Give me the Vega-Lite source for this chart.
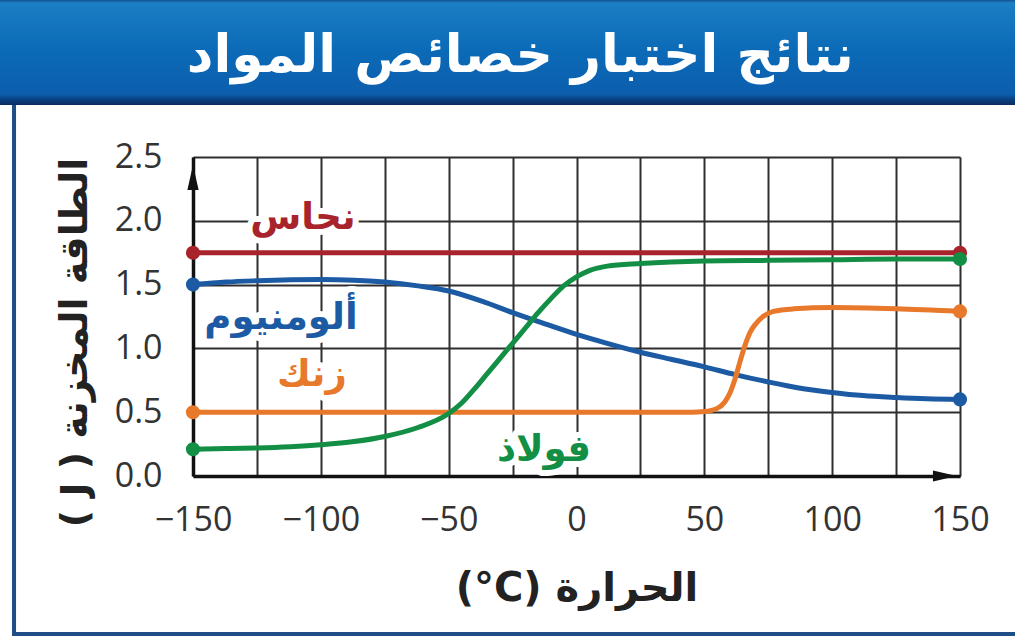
{
  "$schema": "https://vega.github.io/schema/vega-lite/v6.json",
  "autosize": "none",
  "width": 767,
  "height": 319,
  "padding": {"left": 193, "top": 157, "right": 55, "bottom": 163},
  "background": "white",
  "config": {
    "view": {"stroke": null},
    "axis": {"labelFont": "Open Sans", "titleFont": "DejaVu Sans"}
  },
  "datasets": {
    "curves": [
      {"material": "نحاس", "temp": -150, "energy": 1.75},
      {"material": "نحاس", "temp": 150, "energy": 1.75},
      {"material": "ألومنيوم", "temp": -150, "energy": 1.5},
      {"material": "ألومنيوم", "temp": -137, "energy": 1.52},
      {"material": "ألومنيوم", "temp": -125, "energy": 1.53},
      {"material": "ألومنيوم", "temp": -100, "energy": 1.54},
      {"material": "ألومنيوم", "temp": -87, "energy": 1.535},
      {"material": "ألومنيوم", "temp": -75, "energy": 1.52},
      {"material": "ألومنيوم", "temp": -62, "energy": 1.49},
      {"material": "ألومنيوم", "temp": -50, "energy": 1.45},
      {"material": "ألومنيوم", "temp": -37, "energy": 1.37},
      {"material": "ألومنيوم", "temp": -25, "energy": 1.28},
      {"material": "ألومنيوم", "temp": -12, "energy": 1.19},
      {"material": "ألومنيوم", "temp": 0, "energy": 1.11},
      {"material": "ألومنيوم", "temp": 12, "energy": 1.04},
      {"material": "ألومنيوم", "temp": 25, "energy": 0.97},
      {"material": "ألومنيوم", "temp": 37, "energy": 0.915},
      {"material": "ألومنيوم", "temp": 50, "energy": 0.855},
      {"material": "ألومنيوم", "temp": 62, "energy": 0.795},
      {"material": "ألومنيوم", "temp": 75, "energy": 0.737},
      {"material": "ألومنيوم", "temp": 87, "energy": 0.69},
      {"material": "ألومنيوم", "temp": 100, "energy": 0.655},
      {"material": "ألومنيوم", "temp": 112, "energy": 0.63},
      {"material": "ألومنيوم", "temp": 125, "energy": 0.615},
      {"material": "ألومنيوم", "temp": 137, "energy": 0.605},
      {"material": "ألومنيوم", "temp": 150, "energy": 0.6},
      {"material": "زنك", "temp": -150, "energy": 0.5},
      {"material": "زنك", "temp": 0, "energy": 0.5},
      {"material": "زنك", "temp": 45, "energy": 0.5},
      {"material": "زنك", "temp": 50, "energy": 0.505},
      {"material": "زنك", "temp": 55, "energy": 0.53},
      {"material": "زنك", "temp": 58, "energy": 0.58},
      {"material": "زنك", "temp": 60, "energy": 0.65},
      {"material": "زنك", "temp": 62, "energy": 0.76},
      {"material": "زنك", "temp": 64, "energy": 0.9},
      {"material": "زنك", "temp": 66, "energy": 1.03},
      {"material": "زنك", "temp": 68, "energy": 1.13},
      {"material": "زنك", "temp": 70, "energy": 1.19},
      {"material": "زنك", "temp": 73, "energy": 1.25},
      {"material": "زنك", "temp": 77, "energy": 1.29},
      {"material": "زنك", "temp": 85, "energy": 1.31},
      {"material": "زنك", "temp": 100, "energy": 1.32},
      {"material": "زنك", "temp": 125, "energy": 1.31},
      {"material": "زنك", "temp": 150, "energy": 1.29},
      {"material": "فولاذ", "temp": -150, "energy": 0.21},
      {"material": "فولاذ", "temp": -137, "energy": 0.215},
      {"material": "فولاذ", "temp": -125, "energy": 0.22},
      {"material": "فولاذ", "temp": -112, "energy": 0.23},
      {"material": "فولاذ", "temp": -100, "energy": 0.245},
      {"material": "فولاذ", "temp": -87, "energy": 0.27},
      {"material": "فولاذ", "temp": -75, "energy": 0.31},
      {"material": "فولاذ", "temp": -62, "energy": 0.38},
      {"material": "فولاذ", "temp": -50, "energy": 0.49},
      {"material": "فولاذ", "temp": -45, "energy": 0.57},
      {"material": "فولاذ", "temp": -40, "energy": 0.68},
      {"material": "فولاذ", "temp": -35, "energy": 0.8},
      {"material": "فولاذ", "temp": -30, "energy": 0.92},
      {"material": "فولاذ", "temp": -25, "energy": 1.04},
      {"material": "فولاذ", "temp": -20, "energy": 1.16},
      {"material": "فولاذ", "temp": -15, "energy": 1.28},
      {"material": "فولاذ", "temp": -10, "energy": 1.39},
      {"material": "فولاذ", "temp": -5, "energy": 1.49},
      {"material": "فولاذ", "temp": 0, "energy": 1.56},
      {"material": "فولاذ", "temp": 5, "energy": 1.61},
      {"material": "فولاذ", "temp": 12, "energy": 1.645},
      {"material": "فولاذ", "temp": 25, "energy": 1.665},
      {"material": "فولاذ", "temp": 50, "energy": 1.685},
      {"material": "فولاذ", "temp": 75, "energy": 1.69},
      {"material": "فولاذ", "temp": 100, "energy": 1.695},
      {"material": "فولاذ", "temp": 125, "energy": 1.7},
      {"material": "فولاذ", "temp": 150, "energy": 1.7}
    ],
    "labels": [
      {"material": "نحاس", "temp": -107, "energy": 2.02},
      {"material": "ألومنيوم", "temp": -115.6, "energy": 1.24},
      {"material": "زنك", "temp": -103.5, "energy": 0.79},
      {"material": "فولاذ", "temp": -12.7, "energy": 0.2}
    ],
    "heading": [{"text": "نتائج اختبار خصائص المواد"}],
    "one": [{}]
  },
  "layer": [
    {
      "data": {"name": "one"},
      "mark": {"type": "rect", "filled": false, "stroke": "#1f4e86", "strokeWidth": 4},
      "encoding": {
        "x": {"datum": -220, "type": "quantitative"},
        "x2": {"datum": 185},
        "y": {"datum": 2.947, "type": "quantitative"},
        "y2": {"datum": -1.238}
      }
    },
    {
      "data": {"name": "one"},
      "mark": {
        "type": "rect",
        "fill": {
          "gradient": "linear", "x1": 0, "y1": 0, "x2": 0, "y2": 1,
          "stops": [
            {"offset": 0, "color": "#0b2c60"},
            {"offset": 0.05, "color": "#1b7fc4"},
            {"offset": 0.5, "color": "#0b6ab7"},
            {"offset": 0.9, "color": "#0c5ead"},
            {"offset": 0.95, "color": "#0b3f80"},
            {"offset": 1, "color": "#0a2d5e"}
          ]
        }
      },
      "encoding": {
        "x": {"datum": -226, "type": "quantitative"},
        "x2": {"datum": 175},
        "y": {"datum": 3.75, "type": "quantitative"},
        "y2": {"datum": 2.9075}
      }
    },
    {
      "data": {"name": "heading"},
      "mark": {"type": "text", "font": "DejaVu Sans", "fontWeight": "bold", "fontSize": 52, "fill": "white", "align": "center", "baseline": "middle"},
      "encoding": {
        "x": {"datum": -22, "type": "quantitative"},
        "y": {"datum": 3.29, "type": "quantitative"},
        "text": {"field": "text"}
      }
    },
    {
      "data": {"name": "curves"},
      "mark": {"type": "line", "interpolate": "monotone", "strokeWidth": 5},
      "encoding": {
        "x": {
          "field": "temp", "type": "quantitative",
          "scale": {"domain": [-150, 150], "nice": false, "zero": false},
          "axis": {
            "title": "\u202bالحرارة (\u200e°C)\u202c",
            "values": [-150, -125, -100, -75, -50, -25, 0, 25, 50, 75, 100, 125, 150],
            "labelExpr": "datum.value % 50 === 0 ? datum.label : ''",
            "format": "d",
            "labelFlush": false,
            "grid": true, "gridColor": "#2e2e2e", "gridWidth": 2, "gridOpacity": 1,
            "ticks": false,
            "domainColor": "#111", "domainWidth": 3.5,
            "labelFontSize": 34, "labelColor": "#333", "labelPadding": 27,
            "titleFontSize": 40, "titleFontWeight": "bold", "titleColor": "#222",
            "titleX": 383.5, "titleY": 112, "titleBaseline": "middle", "titleAlign": "center"
          }
        },
        "y": {
          "field": "energy", "type": "quantitative",
          "scale": {"domain": [0, 2.5], "nice": false, "zero": false},
          "axis": {
            "title": "\u202bالطاقة المخزنة ( J )\u202c",
            "values": [0, 0.5, 1, 1.5, 2, 2.5],
            "format": ".1f",
            "labelFlush": false,
            "grid": true, "gridColor": "#2e2e2e", "gridWidth": 2, "gridOpacity": 1,
            "ticks": false,
            "domainColor": "#111", "domainWidth": 3.5,
            "labelFontSize": 34, "labelColor": "#333", "labelPadding": 31,
            "titleFontSize": 38, "titleFontWeight": "bold", "titleColor": "#222",
            "titleX": -118, "titleY": 185, "titleBaseline": "middle", "titleAlign": "center", "titleAngle": -90
          }
        },
        "color": {
          "field": "material", "type": "nominal", "legend": null,
          "scale": {
            "domain": ["نحاس", "ألومنيوم", "زنك", "فولاذ"],
            "range": ["#a8232b", "#1c5ba3", "#e8782a", "#128f45"]
          }
        }
      }
    },
    {
      "data": {"name": "curves"},
      "transform": [{"filter": "datum.temp == -150 || datum.temp == 150"}],
      "mark": {"type": "point", "filled": true, "opacity": 1, "size": 200},
      "encoding": {
        "x": {"field": "temp", "type": "quantitative"},
        "y": {"field": "energy", "type": "quantitative"},
        "color": {"field": "material", "type": "nominal", "legend": null}
      }
    },
    {
      "data": {"name": "labels"},
      "mark": {"type": "text", "font": "DejaVu Sans", "fontWeight": "bold", "fontSize": 37, "align": "center", "baseline": "middle", "stroke": "white", "strokeWidth": 12, "strokeJoin": "round", "fill": "white"},
      "encoding": {
        "x": {"field": "temp", "type": "quantitative"},
        "y": {"field": "energy", "type": "quantitative"},
        "text": {"field": "material"}
      }
    },
    {
      "data": {"name": "labels"},
      "mark": {"type": "text", "font": "DejaVu Sans", "fontWeight": "bold", "fontSize": 37, "align": "center", "baseline": "middle"},
      "encoding": {
        "x": {"field": "temp", "type": "quantitative"},
        "y": {"field": "energy", "type": "quantitative"},
        "text": {"field": "material"},
        "color": {"field": "material", "type": "nominal", "legend": null}
      }
    },
    {
      "data": {"name": "one"},
      "mark": {"type": "point", "shape": "M-0.45,1L0,-1L0.45,1Z", "filled": true, "color": "#111", "opacity": 1, "size": 625},
      "encoding": {
        "x": {"datum": -150, "type": "quantitative"},
        "y": {"datum": 2.34, "type": "quantitative"}
      }
    },
    {
      "data": {"name": "one"},
      "mark": {"type": "point", "shape": "M-1,-0.45L1,0L-1,0.45Z", "filled": true, "color": "#111", "opacity": 1, "size": 576},
      "encoding": {
        "x": {"datum": 144.1, "type": "quantitative"},
        "y": {"datum": 0, "type": "quantitative"}
      }
    }
  ]
}
